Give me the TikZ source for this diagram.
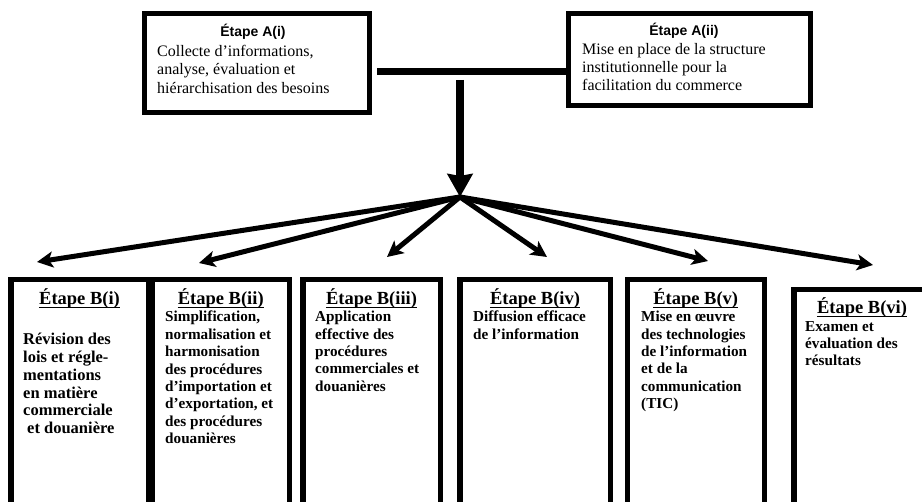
\documentclass[tikz,border=0pt]{standalone}
\usepackage{fontspec}
\setmainfont{Liberation Serif}
\newfontfamily\arialf{Liberation Sans}
\usetikzlibrary{arrows.meta}
\begin{document}
\begin{tikzpicture}[x=1pt,y=-1pt,
  boxA/.style={draw,line width=5pt,inner sep=0pt},
  boxB/.style={draw,line width=5.5pt,inner sep=0pt},
  titleA/.style={inner sep=0pt,font=\arialf\bfseries\fontsize{14}{16}\selectfont},
  bodyA/.style={inner sep=0pt,align=left,anchor=north west,font=\fontsize{16}{18.3}\selectfont,execute at begin node={\rule{0pt}{12pt}}},
  titleB/.style={inner sep=0pt,anchor=base,font=\bfseries\fontsize{18.5}{22}\selectfont},
  bodyB/.style={inner sep=0pt,align=left,anchor=north west,font=\bfseries\fontsize{15.2}{17.4}\selectfont,execute at begin node={\rule{0pt}{11pt}}},
  bodyBi/.style={bodyB,font=\bfseries\fontsize{16.5}{17.8}\selectfont},
  ulin/.style={line width=1.5pt},
  fan/.style={line width=5pt,-{Stealth[length=16pt,width=16pt,inset=4pt]}}
]
\useasboundingbox (0,0) rectangle (922,502);
\clip (0,0) rectangle (922,502);

% top boxes
\node[boxA,minimum width=225pt,minimum height=99pt] (a1) at (257,63) {};
\node[titleA,anchor=base] (a1t) at (253,37) {Étape A(i)};
\node[bodyA] (a1b) at (157,45) {Collecte d’informations,\\analyse, évaluation et\\hiérarchisation des besoins};

\node[boxA,minimum width=242pt,minimum height=92pt] (a2) at (689.5,59.5) {};
\node[titleA,anchor=base] (a2t) at (684,36) {Étape A(ii)};
\node[bodyA] (a2b) at (582,43) {Mise en place de la structure\\institutionnelle pour la\\facilitation du commerce};

% bar and vertical arrow
\coordinate (barL) at (377,72);
\draw[line width=7pt] (barL) -- (a2.west |- barL);
\coordinate (vtop) at (460,80);
\coordinate (O) at (460,197);
\draw[line width=8pt,-{Stealth[length=23pt,width=25pt,inset=2pt]}] (vtop) -- (O);

% fan arrows
\coordinate (t1) at (37,262);
\coordinate (t2) at (199,263);
\coordinate (t3) at (387,257);
\coordinate (t4) at (547,257);
\coordinate (t5) at (708,261);
\coordinate (t6) at (873,265);
\foreach \t in {t1,t2,t3,t4,t5,t6} \draw[fan] (O) -- (\t);

% bottom boxes
\node[boxB,minimum width=137.5pt,minimum height=240.25pt] (b1) at (79.5,399.875) {};
\node[boxB,minimum width=137pt,minimum height=240.25pt] (b2) at (220.75,399.875) {};
\node[boxB,minimum width=137.5pt,minimum height=240.25pt] (b3) at (371.5,399.875) {};
\node[boxB,minimum width=150.5pt,minimum height=240.25pt] (b4) at (535,399.875) {};
\node[boxB,minimum width=137pt,minimum height=240.25pt] (b5) at (695.75,399.875) {};
\node[boxB,minimum width=136.5pt,minimum height=230.25pt] (b6) at (862,404.875) {};

\node[titleB] (b1t) at (79.5,305) {Étape B(i)};
\node[titleB] (b2t) at (220.75,305) {Étape B(ii)};
\node[titleB] (b3t) at (371.5,305) {Étape B(iii)};
\node[titleB] (b4t) at (535,305) {Étape B(iv)};
\node[titleB] (b5t) at (695.75,305) {Étape B(v)};
\node[titleB] (b6t) at (862,314) {Étape B(vi)};
\foreach \t in {b1t,b2t,b3t,b4t,b5t,b6t}
  \draw[ulin] ([yshift=-2.5pt]\t.base west) -- ([yshift=-2.5pt]\t.base east);

\node[bodyBi] (b1b) at (23,333) {Révision des\\lois et régle-\\mentations\\en matière\\commerciale\\\hspace*{4pt}et douanière};
\node[bodyB] (b2b) at (165,311) {Simplification,\\normalisation et\\harmonisation\\des procédures\\d’importation et\\d’exportation, et\\des procédures\\douanières};
\node[bodyB] (b3b) at (315,311) {Application\\effective des\\procédures\\commerciales et\\douanières};
\node[bodyB] (b4b) at (473,311) {Diffusion efficace\\de l’information};
\node[bodyB] (b5b) at (641,311) {Mise en œuvre\\des technologies\\de l’information\\et de la\\communication\\(TIC)};
\node[bodyB] (b6b) at (805,321) {Examen et\\évaluation des\\résultats};
\end{tikzpicture}
\end{document}
